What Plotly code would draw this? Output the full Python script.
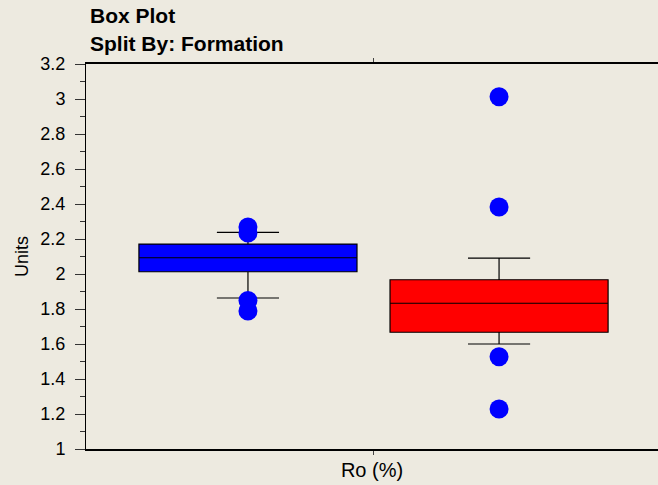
import plotly.graph_objects as go

# ---- data ----
groups = ["Formation 1", "Formation 2"]
positions = [0, 1]
box_colors = ["#0000FF", "#FF0000"]
q1_vals = [2.013, 1.667]
median_vals = [2.093, 1.833]
q3_vals = [2.171, 1.967]
lower_whisker = [1.863, 1.600]
upper_whisker = [2.238, 2.091]
outliers = [
    [2.269, 2.234, 1.849, 1.789],
    [3.013, 2.383, 1.527, 1.229],
]
y_tick_vals = [1.0, 1.2, 1.4, 1.6, 1.8, 2.0, 2.2, 2.4, 2.6, 2.8, 3.0, 3.2]
y_tick_text = ["1", "1.2", "1.4", "1.6", "1.8", "2", "2.2", "2.4", "2.6", "2.8", "3", "3.2"]

BG = "#EDEAE0"
FONT = "Liberation Sans, Arial, sans-serif"

fig = go.Figure()
for i, g in enumerate(groups):
    fig.add_trace(go.Box(
        name=g, x=[positions[i]], q1=[q1_vals[i]], median=[median_vals[i]],
        q3=[q3_vals[i]], lowerfence=[lower_whisker[i]], upperfence=[upper_whisker[i]],
        width=0.8685, whiskerwidth=0.285, boxpoints=False,
        fillcolor=box_colors[i], line=dict(color="#000000", width=1.2),
        showlegend=False,
    ))
for i, g in enumerate(groups):
    fig.add_trace(go.Scatter(
        x=[positions[i]] * len(outliers[i]), y=outliers[i], mode="markers",
        marker=dict(size=19, color="#0000FF", line=dict(width=0)),
        showlegend=False, name=g + " outliers",
    ))

mid = (positions[0] + positions[1]) / 2

fig.update_layout(
    width=658, height=485,
    margin=dict(l=86, r=0, t=64, b=36),
    paper_bgcolor=BG, plot_bgcolor=BG,
    font=dict(family=FONT, color="#000000"),
    xaxis=dict(
        range=[-0.645, 1.633], showgrid=False, zeroline=False,
        showline=True, linecolor="#000000", linewidth=2,
        tickvals=[mid], ticktext=[""], ticks="outside", ticklen=4,
        tickcolor="#444444", mirror="ticks",
        title=dict(text="Ro (%)", font=dict(size=20, family=FONT), standoff=7),
    ),
    yaxis=dict(
        range=[1.0, 3.2], showgrid=False, zeroline=False,
        showline=True, linecolor="#000000", linewidth=1,
        tickvals=y_tick_vals, ticktext=y_tick_text,
        ticks="outside", ticklen=10, tickcolor="#333333",
        tickfont=dict(size=18, family=FONT), ticklabelstandoff=6,
        minor=dict(dtick=0.1, ticks="outside", ticklen=5, tickcolor="#333333"),
        title=dict(text="Units", font=dict(size=18, family=FONT), standoff=7),
    ),
    annotations=[
        dict(text="<b>Box Plot</b>", xref="paper", yref="paper", x=0.0035, y=1.127,
             xanchor="left", yanchor="middle", showarrow=False,
             font=dict(size=21, family=FONT)),
        dict(text="<b>Split By: Formation</b>", xref="paper", yref="paper", x=0.0035, y=1.0545,
             xanchor="left", yanchor="middle", showarrow=False,
             font=dict(size=21, family=FONT)),
    ],
)

fig.write_html("out.html", config={"displayModeBar": False},
               post_script="document.body.style.margin='0px';")
